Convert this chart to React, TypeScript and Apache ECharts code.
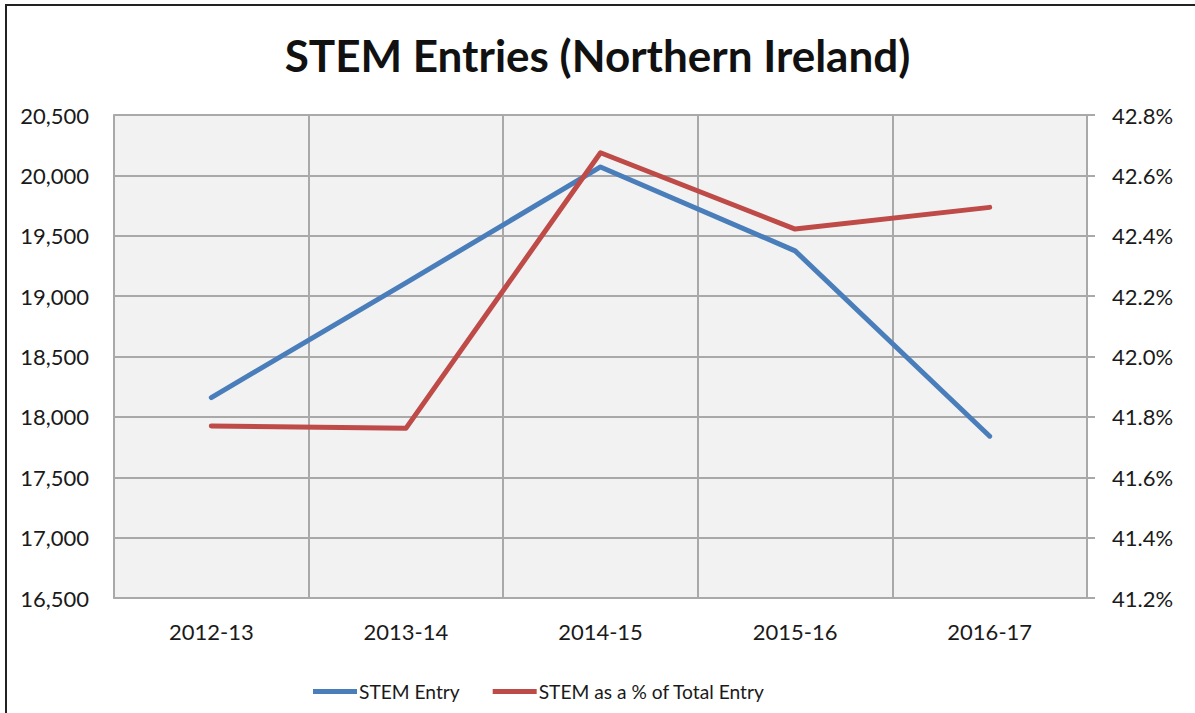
import React, { useEffect, useRef } from "react";
import * as echarts from "echarts";

const categories = ["2012-13", "2013-14", "2014-15", "2015-16", "2016-17"];
const stemEntry = [18160, 19110, 20070, 19375, 17840];
const stemPercent = [41.77, 41.762, 42.675, 42.422, 42.494];
const leftTicks = { min: 16500, max: 20500, interval: 500 };
const rightTicks = { min: 41.2, max: 42.8, interval: 0.2 };

const FONT = "Lato";

export default function App() {
  const ref = useRef<HTMLDivElement>(null);
  useEffect(() => {
    if (!ref.current) return;
    const chart = echarts.init(ref.current, undefined, { renderer: "svg" });
    const gridColor = "#a9a9a9";
    chart.setOption({
      animation: false,
      backgroundColor: "#ffffff",
      textStyle: { fontFamily: FONT },
      title: {
        text: "STEM Entries (Northern Ireland)",
        left: "center",
        top: 28,
        textStyle: { fontFamily: FONT, fontSize: 44, fontWeight: "bold", color: "#111" },
      },
      graphic: [
        {
          type: "rect",
          shape: { x: 6, y: 5, width: 1250, height: 760 },
          style: { fill: "none", stroke: "#222", lineWidth: 2 },
          silent: true,
        },
      ],
      legend: {
        left: 308,
        top: 677,
        icon: "rect",
        itemWidth: 44,
        itemHeight: 5,
        itemGap: 33,
        textStyle: { fontFamily: FONT, fontSize: 19.2, color: "#1a1a1a", padding: [0, 0, 0, -3] },
        data: ["STEM Entry", "STEM as a % of Total Entry"],
      },
      grid: { left: 114, right: 108, top: 115, bottom: 115, backgroundColor: "#f2f2f2", show: true, borderWidth: 0 },
      xAxis: {
        type: "category",
        data: categories,
        boundaryGap: true,
        axisLine: { show: true, lineStyle: { color: gridColor, width: 2 } },
        axisTick: { show: false },
        splitLine: { show: true, lineStyle: { color: gridColor, width: 2 } },
        axisLabel: { fontFamily: FONT, fontSize: 22, color: "#1a1a1a", margin: 22 },
      },
      yAxis: [
        {
          type: "value",
          min: leftTicks.min,
          max: leftTicks.max,
          interval: leftTicks.interval,
          axisLine: { show: true, lineStyle: { color: gridColor, width: 2 } },
          axisTick: { show: false },
          splitLine: { show: true, lineStyle: { color: gridColor, width: 2 } },
          axisLabel: {
            fontFamily: FONT,
            fontSize: 22,
            color: "#1a1a1a",
            margin: 25,
            formatter: (v: number) => v.toLocaleString("en-US"),
          },
        },
        {
          type: "value",
          position: "right",
          min: rightTicks.min,
          max: rightTicks.max,
          interval: rightTicks.interval,
          axisLine: { show: true, lineStyle: { color: gridColor, width: 2 } },
          axisTick: { show: true, length: 8, lineStyle: { color: gridColor, width: 2 } },
          splitLine: { show: false },
          axisLabel: {
            fontFamily: FONT,
            fontSize: 22,
            color: "#1a1a1a",
            margin: 25,
            formatter: (v: number) => v.toFixed(1) + "%",
          },
        },
      ],
      series: [
        {
          name: "STEM Entry",
          type: "line",
          data: stemEntry,
          yAxisIndex: 0,
          symbol: "none",
          lineStyle: { color: "#4a7ebb", width: 5, cap: "round", join: "round" },
          itemStyle: { color: "#4a7ebb" },
        },
        {
          name: "STEM as a % of Total Entry",
          type: "line",
          data: stemPercent,
          yAxisIndex: 1,
          symbol: "none",
          lineStyle: { color: "#be4b48", width: 5, cap: "round", join: "round" },
          itemStyle: { color: "#be4b48" },
        },
      ],
    });
    return () => chart.dispose();
  }, []);
  return (
    <div
      ref={ref}
      style={{ position: "fixed", left: 0, top: 0, width: 1195, height: 713 }}
    />
  );
}
